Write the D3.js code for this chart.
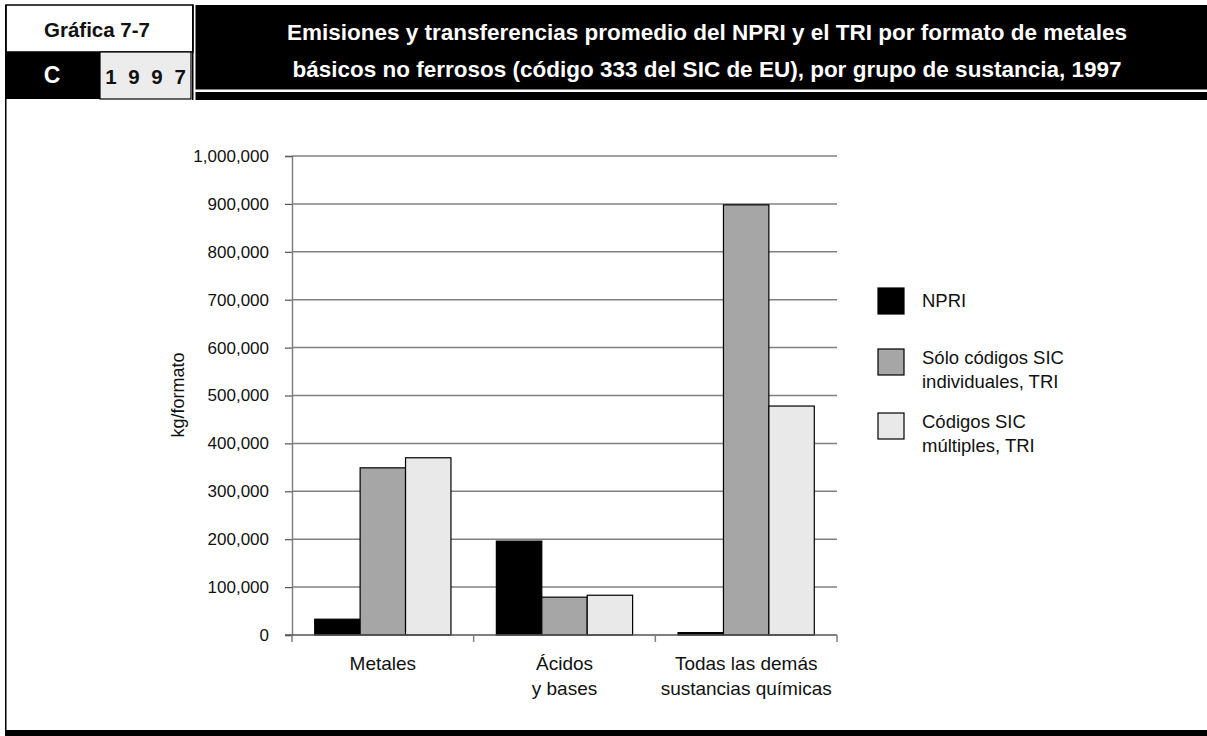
<!DOCTYPE html>
<html>
<head>
<meta charset="utf-8">
<script src="https://cdn.jsdelivr.net/npm/d3@7"></script>
<style>
  html, body { margin: 0; padding: 0; background: #fff; }
  svg { display: block; }
  text { font-family: "Liberation Sans", Arial, sans-serif; }
</style>
</head>
<body>
<svg id="chart" width="1207" height="736"></svg>
<script>
// ---- data ----
const categories = ["Metales", "Ácidos y bases", "Todas las demás sustancias químicas"];
const categoryLines = [["Metales"], ["Ácidos", "y bases"], ["Todas las demás", "sustancias químicas"]];
const seriesNames = ["NPRI", "Sólo códigos SIC individuales, TRI", "Códigos SIC múltiples, TRI"];
const legendLines = [["NPRI"], ["Sólo códigos SIC", "individuales, TRI"], ["Códigos SIC", "múltiples, TRI"]];
const npri = [33000, 196000, 5000];
const tri_individual = [349000, 79000, 898000];
const tri_multiple = [370000, 83000, 478000];
const yTicks = [0, 100000, 200000, 300000, 400000, 500000, 600000, 700000, 800000, 900000, 1000000];
const titleLines = [
  "Emisiones y transferencias promedio del NPRI y el TRI por formato de metales",
  "básicos no ferrosos (código 333 del SIC de EU), por grupo de sustancia, 1997"
];
const colors = ["#000000", "#a6a6a6", "#e9e9e9"];

const seriesValues = [npri, tri_individual, tri_multiple];

const svg = d3.select("#chart");

// ---- header ----
svg.append("rect").attr("x", 0).attr("y", 0).attr("width", 1207).attr("height", 736).attr("fill", "#fff");
// Gráfica box
svg.append("rect").attr("x", 6).attr("y", 5).attr("width", 187).attr("height", 47)
  .attr("fill", "#fff").attr("stroke", "#000").attr("stroke-width", 1.5);
svg.append("text").attr("x", 97).attr("y", 37).attr("text-anchor", "middle")
  .attr("font-weight", "bold").attr("font-size", 20.5).attr("fill", "#111").text("Gráfica 7-7");
// C black box
svg.append("rect").attr("x", 6).attr("y", 52).attr("width", 94).attr("height", 47).attr("fill", "#000");
svg.append("text").attr("x", 52).attr("y", 83).attr("text-anchor", "middle")
  .attr("font-weight", "bold").attr("font-size", 23).attr("fill", "#fff").text("C");
// 1997 box
svg.append("rect").attr("x", 100).attr("y", 52).attr("width", 91).attr("height", 47)
  .attr("fill", "#ececec").attr("stroke", "#000").attr("stroke-width", 1.2);
svg.append("text").attr("x", 147).attr("y", 84).attr("text-anchor", "middle")
  .attr("font-weight", "bold").attr("font-size", 20.5).attr("letter-spacing", 3).attr("fill", "#111").text("1 9 9 7");
// separator line
svg.append("rect").attr("x", 192).attr("y", 5).attr("width", 1.5).attr("height", 95).attr("fill", "#000");
// Title banner
svg.append("rect").attr("x", 195.5).attr("y", 5).attr("width", 1011.5).attr("height", 84.5).attr("fill", "#000");
svg.append("rect").attr("x", 195.5).attr("y", 92).attr("width", 1011.5).attr("height", 8).attr("fill", "#000");
titleLines.forEach((t, i) => {
  svg.append("text").attr("x", 707).attr("y", 40 + i * 37).attr("text-anchor", "middle")
    .attr("font-weight", "bold").attr("font-size", 22.5).attr("fill", "#fff").text(t);
});
// left border & bottom bar
svg.append("rect").attr("x", 5).attr("y", 5).attr("width", 1.5).attr("height", 731).attr("fill", "#000");
svg.append("rect").attr("x", 5).attr("y", 730).attr("width", 1202).attr("height", 6).attr("fill", "#000");

// ---- chart ----
const plot = { left: 292, right: 837, top: 156, bottom: 635 };
const x = d3.scaleBand().domain(categories).range([plot.left, plot.right]).paddingInner(0).paddingOuter(0);
const xInner = d3.scaleBand().domain(seriesNames).range([0, x.bandwidth()]).paddingInner(0).paddingOuter(0.5);
const y = d3.scaleLinear().domain([0, 1000000]).range([plot.bottom, plot.top]);

const g = svg.append("g");

// gridlines
g.append("g").selectAll("line").data(yTicks.filter(d => d > 0)).join("line")
  .attr("x1", plot.left).attr("x2", plot.right)
  .attr("y1", d => y(d)).attr("y2", d => y(d))
  .attr("stroke", "#808080").attr("stroke-width", 1.5);

// y axis
const yAxis = g.append("g").attr("transform", `translate(${plot.left},0)`)
  .call(d3.axisLeft(y).tickValues(yTicks).tickFormat(d3.format(",")).tickSize(7).tickPadding(16));
yAxis.select(".domain").attr("stroke", "#808080").attr("stroke-width", 1.5);
yAxis.selectAll(".tick line").attr("stroke", "#555").attr("stroke-width", 1.2);
yAxis.selectAll(".tick text").attr("font-family", "Liberation Sans, Arial, sans-serif")
  .attr("font-size", 17).attr("fill", "#111");

// bars
categories.forEach((c, ci) => {
  seriesNames.forEach((s, si) => {
    const v = seriesValues[si][ci];
    g.append("rect")
      .attr("x", x(c) + xInner(s))
      .attr("y", y(v))
      .attr("width", xInner.bandwidth())
      .attr("height", y(0) - y(v))
      .attr("fill", colors[si])
      .attr("stroke", "#000").attr("stroke-width", 1.2);
  });
});

// x axis
const xAxisG = g.append("g").attr("transform", `translate(0,${plot.bottom})`);
xAxisG.append("line").attr("x1", plot.left - 7).attr("x2", plot.right)
  .attr("y1", 0).attr("y2", 0).attr("stroke", "#555").attr("stroke-width", 1.5);
const boundaries = categories.map(c => x(c)).concat([x(categories[categories.length - 1]) + x.bandwidth()]);
xAxisG.selectAll("line.tk").data(boundaries).join("line").attr("class", "tk")
  .attr("x1", d => d).attr("x2", d => d).attr("y1", 0).attr("y2", 7)
  .attr("stroke", "#808080").attr("stroke-width", 1.5);
categories.forEach((c, ci) => {
  const t = xAxisG.append("text").attr("x", x(c) + x.bandwidth() / 2).attr("y", 35)
    .attr("text-anchor", "middle").attr("font-size", 19).attr("fill", "#111");
  categoryLines[ci].forEach((line, li) => {
    t.append("tspan").attr("x", x(c) + x.bandwidth() / 2).attr("dy", li === 0 ? 0 : 25).text(line);
  });
});

// y axis title
svg.append("text").attr("transform", `translate(184,395) rotate(-90)`)
  .attr("text-anchor", "middle").attr("font-size", 18).attr("fill", "#111").text("kg/formato");

// legend
const legendTop = [288, 349, 413];
seriesNames.forEach((s, i) => {
  svg.append("rect").attr("x", 878).attr("y", legendTop[i]).attr("width", 26).attr("height", 26)
    .attr("fill", colors[i]).attr("stroke", "#000").attr("stroke-width", 1.2);
  const t = svg.append("text").attr("x", 922).attr("font-size", 18.5).attr("fill", "#111");
  const lines = legendLines[i];
  const y0 = lines.length === 1 ? legendTop[i] + 19 : legendTop[i] + 15;
  t.attr("y", y0);
  lines.forEach((line, li) => {
    t.append("tspan").attr("x", 922).attr("dy", li === 0 ? 0 : 24).text(line);
  });
});
</script>
</body>
</html>
